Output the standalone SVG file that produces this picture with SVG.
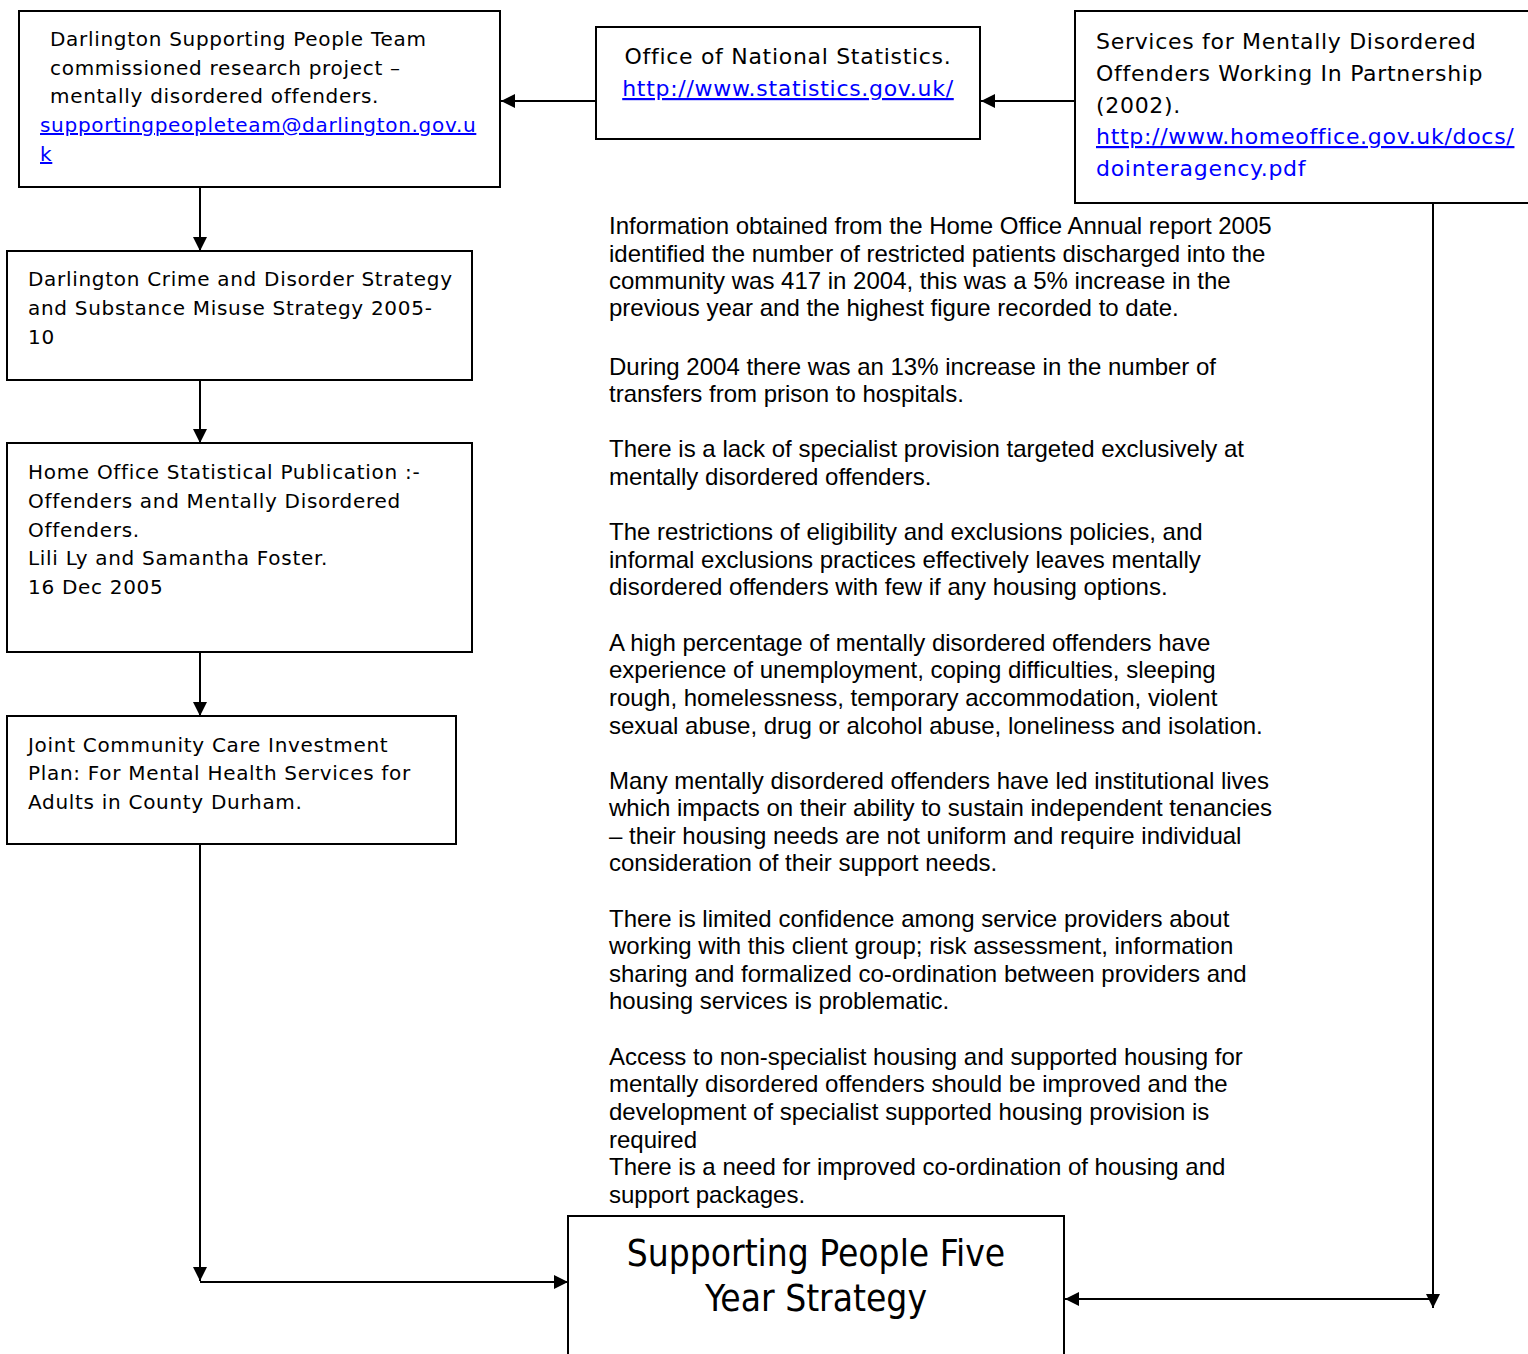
<svg xmlns="http://www.w3.org/2000/svg" width="1528" height="1354" viewBox="0 0 1528 1354">
<style>
.box{fill:#fff;stroke:#000;stroke-width:2}
.t{font-family:"DejaVu Sans",sans-serif;font-size:20px;letter-spacing:0.7px;fill:#000}
.tl{font-family:"DejaVu Sans",sans-serif;font-size:22px;letter-spacing:0.7px;fill:#000}
.big{font-family:"DejaVu Sans Condensed","DejaVu Sans",sans-serif;font-size:36.8px;fill:#000}
.link{fill:#0000ff;text-decoration:underline}
.blue{fill:#0000ff}
.body{font-family:"Liberation Sans",Arial,sans-serif;font-size:24px;fill:#000}
.c{fill:none;stroke:#000;stroke-width:2}
</style>
<defs>
<marker id="ah" viewBox="0 0 14 14" refX="14" refY="7" markerWidth="14" markerHeight="14" markerUnits="userSpaceOnUse" orient="auto">
<path d="M0,0 L14,7 L0,14 Z" fill="#000"/>
</marker>
</defs>
<g id="connectors">
<line class="c" x1="596" y1="101" x2="501" y2="101" marker-end="url(#ah)"/>
<line class="c" x1="1075" y1="101" x2="981" y2="101" marker-end="url(#ah)"/>
<line class="c" x1="200" y1="187" x2="200" y2="251" marker-end="url(#ah)"/>
<line class="c" x1="200" y1="380" x2="200" y2="443" marker-end="url(#ah)"/>
<line class="c" x1="200" y1="652" x2="200" y2="716" marker-end="url(#ah)"/>
<line class="c" x1="200" y1="844" x2="200" y2="1281" marker-end="url(#ah)"/>
<line class="c" x1="200" y1="1282" x2="568" y2="1282" marker-end="url(#ah)"/>
<line class="c" x1="1433" y1="203" x2="1433" y2="1308" marker-end="url(#ah)"/>
<line class="c" x1="1433" y1="1299" x2="1065" y2="1299" marker-end="url(#ah)"/>
</g>
<g id="node-darlington-sp">
<rect class="box" x="19" y="11" width="481" height="176"/>
<text class="t" x="50" y="46">Darlington Supporting People Team</text>
<text class="t" x="50" y="74.5">commissioned research project –</text>
<text class="t" x="50" y="103">mentally disordered offenders.</text>
<text class="t link" x="40" y="132">supportingpeopleteam@darlington.gov.u</text>
<text class="t link" x="40" y="161">k</text>
</g>
<g id="node-ons">
<rect class="box" x="596" y="27" width="384" height="112"/>
<text class="tl" x="788" y="64" text-anchor="middle">Office of National Statistics.</text>
<text class="tl link" x="788" y="96" text-anchor="middle">http://www.statistics.gov.uk/</text>
</g>
<g id="node-smdo">
<rect class="box" x="1075" y="11" width="470" height="192"/>
<text class="tl" x="1096" y="49">Services for Mentally Disordered</text>
<text class="tl" x="1096" y="81">Offenders Working In Partnership</text>
<text class="tl" x="1096" y="112.5">(2002).</text>
<text class="tl link" x="1096" y="144">http://www.homeoffice.gov.uk/docs/</text>
<text class="tl blue" x="1096" y="175.5">dointeragency.pdf</text>
</g>
<g id="node-crime">
<rect class="box" x="7" y="251" width="465" height="129"/>
<text class="t" x="28" y="286">Darlington Crime and Disorder Strategy</text>
<text class="t" x="28" y="315">and Substance Misuse Strategy 2005-</text>
<text class="t" x="28" y="344">10</text>
</g>
<g id="node-homeoffice">
<rect class="box" x="7" y="443" width="465" height="209"/>
<text class="t" x="28" y="479">Home Office Statistical Publication :-</text>
<text class="t" x="28" y="508">Offenders and Mentally Disordered</text>
<text class="t" x="28" y="537">Offenders.</text>
<text class="t" x="28" y="565">Lili Ly and Samantha Foster.</text>
<text class="t" x="28" y="594">16 Dec 2005</text>
</g>
<g id="node-jcc">
<rect class="box" x="7" y="716" width="449" height="128"/>
<text class="t" x="28" y="751.5">Joint Community Care Investment</text>
<text class="t" x="28" y="780">Plan: For Mental Health Services for</text>
<text class="t" x="28" y="808.5">Adults in County Durham.</text>
</g>
<g id="node-findings">
<text class="body" x="609" y="234">Information obtained from the Home Office Annual report 2005</text>
<text class="body" x="609" y="262">identified the number of restricted patients discharged into the</text>
<text class="body" x="609" y="289">community was 417 in 2004, this was a 5% increase in the</text>
<text class="body" x="609" y="316">previous year and the highest figure recorded to date.</text>
<text class="body" x="609" y="375">During 2004 there was an 13% increase in the number of</text>
<text class="body" x="609" y="402">transfers from prison to hospitals.</text>
<text class="body" x="609" y="457">There is a lack of specialist provision targeted exclusively at</text>
<text class="body" x="609" y="485">mentally disordered offenders.</text>
<text class="body" x="609" y="540">The restrictions of eligibility and exclusions policies, and</text>
<text class="body" x="609" y="568">informal exclusions practices effectively leaves mentally</text>
<text class="body" x="609" y="595">disordered offenders with few if any housing options.</text>
<text class="body" x="609" y="651">A high percentage of mentally disordered offenders have</text>
<text class="body" x="609" y="678">experience of unemployment, coping difficulties, sleeping</text>
<text class="body" x="609" y="706">rough, homelessness, temporary accommodation, violent</text>
<text class="body" x="609" y="734">sexual abuse, drug or alcohol abuse, loneliness and isolation.</text>
<text class="body" x="609" y="789">Many mentally disordered offenders have led institutional lives</text>
<text class="body" x="609" y="816">which impacts on their ability to sustain independent tenancies</text>
<text class="body" x="609" y="844">– their housing needs are not uniform and require individual</text>
<text class="body" x="609" y="871">consideration of their support needs.</text>
<text class="body" x="609" y="927">There is limited confidence among service providers about</text>
<text class="body" x="609" y="954">working with this client group; risk assessment, information</text>
<text class="body" x="609" y="982">sharing and formalized co-ordination between providers and</text>
<text class="body" x="609" y="1009">housing services is problematic.</text>
<text class="body" x="609" y="1065">Access to non-specialist housing and supported housing for</text>
<text class="body" x="609" y="1092">mentally disordered offenders should be improved and the</text>
<text class="body" x="609" y="1120">development of specialist supported housing provision is</text>
<text class="body" x="609" y="1148">required</text>
<text class="body" x="609" y="1175">There is a need for improved co-ordination of housing and</text>
<text class="body" x="609" y="1203">support packages.</text>
</g>
<g id="node-sp-strategy">
<rect class="box" x="568" y="1216" width="496" height="150"/>
<text class="big" x="816" y="1266" text-anchor="middle">Supporting People Five</text>
<text class="big" x="816" y="1311" text-anchor="middle">Year Strategy</text>
</g>
</svg>
